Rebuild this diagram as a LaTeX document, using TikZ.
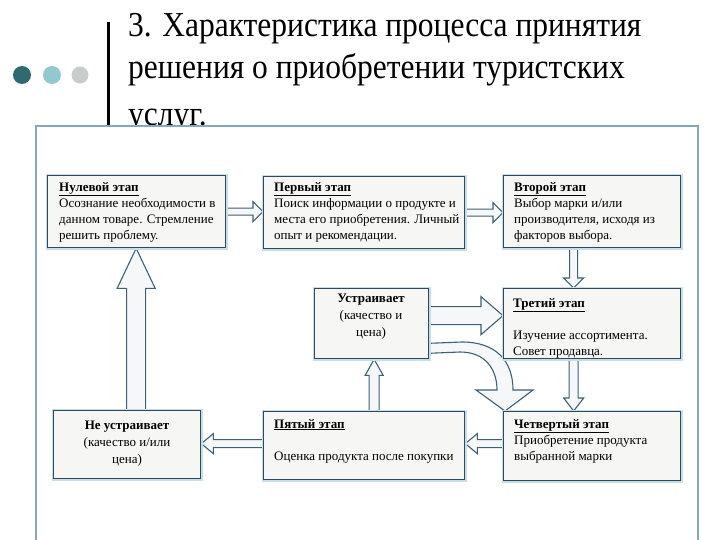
\documentclass[tikz,border=0pt]{standalone}
\usepackage{fontspec}
\setmainfont{Liberation Serif}
\newfontfamily\titlefont[FakeStretch=0.9]{Liberation Serif}
\usetikzlibrary{calc}
\pgfdeclarelayer{back}
\pgfdeclarelayer{arr}
\pgfsetlayers{back,arr,main}
\definecolor{boxline}{HTML}{2C4A5E}
\definecolor{boxfill}{HTML}{F6F6F5}
\definecolor{glow}{HTML}{C9DDE7}
\definecolor{arrline}{HTML}{3D6075}
\definecolor{arrfill}{HTML}{F5F7F8}
\definecolor{framec}{HTML}{86A8BC}
\definecolor{dotA}{HTML}{2E6A70}
\definecolor{dotB}{HTML}{93C8CE}
\definecolor{dotC}{HTML}{C9CCCC}
\newcommand\ttl[1]{\underline{\textbf{#1}}}
\newcommand\barr[5]{%
  \coordinate (bB) at ($(#2)!#5!(#1)$);
  \draw[arrst] ($(#1)!#3!90:(#2)$) -- ($(bB)!#3!90:(#2)$) -- ($(bB)!#4!90:(#2)$) -- (#2)
    -- ($(bB)!#4!-90:(#2)$) -- ($(bB)!#3!-90:(#2)$) -- ($(#1)!#3!-90:(#2)$) -- cycle;}
\tikzset{
  box/.style={draw=boxline, fill=boxfill, line width=1.3pt, inner sep=0pt,
    preaction={draw=glow, line width=4pt}},
  txt/.style={inner sep=0pt, align=left, font=\fontsize{13}{16}\selectfont},
  ctxt/.style={inner sep=0pt, align=center, font=\fontsize{13}{17}\selectfont},
  arrst/.style={draw=arrline, fill=arrfill, line width=1.1pt, line join=miter},
  ttlline/.style={inner sep=0pt, anchor=base west, font=\titlefont\fontsize{35}{44}\selectfont}
}
\begin{document}
\begin{tikzpicture}[x=1pt,y=-1pt]
\useasboundingbox (0,0) rectangle (720,540);
\begin{pgfonlayer}{back}
  \fill[dotA] (22,75) circle (9pt);
  \fill[dotB] (52,75) circle (9pt);
  \fill[dotC] (80,75) circle (8.5pt);
  \fill[black] (107,22) rectangle (110,126);
  \node[ttlline] (title1) at (128,37) {3. Характеристика процесса принятия};
  \node[ttlline] (title2) at (128,79) {решения о приобретении туристских};
  \node[ttlline] (title3) at (128,126) {услуг.};
  \path[fill=white] (36,545) -- (36,126) -- (698,126) -- (698,545) -- cycle;
  \draw[framec, line width=1.3pt] (36,545) -- (36,126) -- (698,126) -- (698,545);
\end{pgfonlayer}

% boxes
\node[box, anchor=north west, minimum width=178pt, minimum height=72pt] (n0) at (47,175) {};
\node[box, anchor=north west, minimum width=201pt, minimum height=72pt] (n1) at (263,176) {};
\node[box, anchor=north west, minimum width=177pt, minimum height=72pt] (n2) at (503,175) {};
\node[box, anchor=north west, minimum width=114pt, minimum height=70pt] (u) at (314,288) {};
\node[box, anchor=north west, minimum width=177pt, minimum height=70pt] (n3) at (503,288) {};
\node[box, anchor=north west, minimum width=147pt, minimum height=68pt] (n6) at (53,410) {};
\node[box, anchor=north west, minimum width=201pt, minimum height=68pt] (n5) at (263,411) {};
\node[box, anchor=north west, minimum width=177pt, minimum height=69pt] (n4) at (503,411) {};

% texts
\node[txt, anchor=north west] (t0) at (59,182) {\ttl{Нулевой этап}\\Осознание необходимости в\\данном товаре. Стремление\\решить проблему.};
\node[txt, anchor=north west] (t1) at (274,182) {\ttl{Первый этап}\\Поиск информации о продукте и\\места его приобретения. Личный\\опыт и рекомендации.};
\node[txt, anchor=north west] (t2) at (514,182) {\ttl{Второй этап}\\Выбор марки и/или\\производителя, исходя из\\факторов выбора.};
\node[ctxt, anchor=north] (tu) at (371,294) {\textbf{Устраивает}\\(качество и\\цена)};
\node[txt, anchor=north west] (t3) at (513,298) {\ttl{Третий этап}\\[16pt]Изучение ассортимента.\\Совет продавца.};
\node[ctxt, anchor=north] (t6) at (127,421) {\textbf{Не устраивает}\\(качество и/или\\цена)};
\node[txt, anchor=north west] (t5) at (274,419) {\ttl{Пятый этап}\\[16pt]Оценка продукта после покупки};
\node[txt, anchor=north west] (t4) at (514,419) {\ttl{Четвертый этап}\\Приобретение продукта\\выбранной марки};

% connectors
\coordinate (a01s) at (n0.east);
\coordinate (a01e) at (n1.west |- n0.east);
\coordinate (a12s) at (n1.east);
\coordinate (a12e) at (n2.west |- n1.east);
\coordinate (a23s) at ($(n2.south)+(-18.5,0)$);
\coordinate (a23e) at (a23s |- n3.north);
\coordinate (a34s) at ($(n3.south)+(-18.5,0)$);
\coordinate (a34e) at (a34s |- n4.north);
\coordinate (au3s) at ($(u.east)+(0,-8)$);
\coordinate (au3e) at (n3.west |- au3s);
\coordinate (a45s) at ($(n4.west)+(0,-2.5)$);
\coordinate (a45e) at (n5.east |- a45s);
\coordinate (a56s) at (n5.west |- a45s);
\coordinate (a56e) at (n6.east |- a45s);
\coordinate (a5us) at ($(n5.north)+(10,0)$);
\coordinate (a5ue) at (a5us |- u.south);
\coordinate (a60s) at ($(n6.north)+(9,0)$);
\coordinate (a60e) at (a60s |- n0.south);
\coordinate (cs) at ($(u.south east)+(0,-16)$);
\coordinate (ce) at ($(u.south east)+(0,-6)$);
\coordinate (ct) at ($(n4.north west)+(2,0)$);
\begin{pgfonlayer}{arr}
  \barr{a01s}{a01e}{3.5pt}{10pt}{10pt}
  \barr{a12s}{a12e}{3.5pt}{10pt}{10pt}
  \barr{a23s}{a23e}{4pt}{10pt}{10pt}
  \barr{a34s}{a34e}{4.5pt}{10pt}{13pt}
  \barr{au3s}{au3e}{9pt}{19pt}{22pt}
  \barr{a45s}{a45e}{4pt}{10pt}{12pt}
  \barr{a56s}{a56e}{4pt}{10pt}{12pt}
  \barr{a5us}{a5ue}{5pt}{9pt}{16pt}
  \barr{a60s}{a60e}{9.5pt}{19pt}{40pt}
  \draw[arrst] (cs) -- (462,342) .. controls (497,342) and (513,362) .. (513,390)
    -- (533,390) -- (ct) -- (476,390) -- (497,390)
    .. controls (497,370) and (486,352) .. (460,352) -- (ce) -- cycle;
\end{pgfonlayer}
\end{tikzpicture}
\end{document}
